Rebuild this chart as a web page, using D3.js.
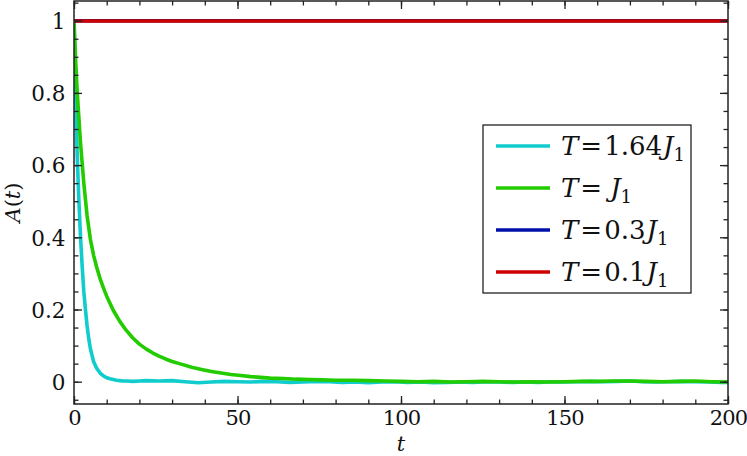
<!DOCTYPE html>
<html>
<head>
<meta charset="utf-8">
<script src="https://cdn.jsdelivr.net/npm/d3@7/dist/d3.min.js"></script>
<style>
  body { margin: 0; background: #fff; }
  svg { display: block; }
  .ser { font-family: "DejaVu Serif", serif; }
</style>
</head>
<body>
<svg id="chart" width="747" height="456"></svg>
<script>
// ---- data ----
const tCyan = [0,0.5,1,1.5,2,2.5,3,3.5,4,4.5,5,6,7,8,9,10,11,12,13,14,15,16,18,20,
  22,26,30,34,38,42,46,50,54,58,62,66,70,74,78,82,86,90,94,98,102,106,110,114,118,122,
  126,130,134,138,142,146,150,154,158,162,166,170,174,178,182,186,190,194,198,200];
const aCyan = [1.0,0.80,0.62,0.50,0.40,0.32,0.25,0.20,0.155,0.12,0.092,0.055,0.036,0.024,0.016,0.011,0.008,0.006,0.004,0.003,0.002,0.002,0.001,0.002,
  0.003,0.002,0.003,0.000,-0.003,-0.001,0.001,0.000,-0.001,0.001,0.000,-0.002,-0.001,0.001,0.000,-0.002,-0.001,-0.003,-0.001,0.000,-0.002,-0.001,-0.003,-0.002,-0.001,-0.002,
  0.000,-0.001,-0.002,-0.001,-0.002,0.000,-0.001,0.000,0.001,0.000,0.001,0.002,0.000,-0.001,0.000,0.001,0.000,-0.001,-0.002,-0.002];

const tGreen = [0,0.5,1,1.5,2,3,4,5,6,7,8,9,10,12,14,16,18,20,22,24,26,28,30,33,36,39,42,45,48,51,54,57,60,
  64,68,72,76,80,85,90,95,100,105,110,115,120,125,130,135,140,145,150,155,160,165,170,175,180,185,190,195,200];
const aGreen = [1.0,0.89,0.80,0.73,0.66,0.55,0.46,0.395,0.35,0.315,0.285,0.26,0.237,0.198,0.167,0.142,0.121,0.104,0.091,0.080,0.071,0.063,0.056,0.048,0.040,0.034,0.028,0.024,0.020,0.017,0.014,0.012,0.010,
  0.009,0.007,0.006,0.005,0.004,0.004,0.003,0.002,0.001,0.000,0.001,-0.001,0.000,0.001,0.000,-0.001,0.000,-0.001,0.000,0.001,0.001,0.002,0.002,0.001,0.000,0.001,0.002,0.000,-0.001];

const tBlue = [0,50,100,150,200];
const aBlue = [1,1,1,1,1];
const tRed = [0,50,100,150,200];
const aRed = [0.999,0.999,0.999,0.999,0.999];

const seriesNames = ["1.64", "", "0.3", "0.1"];
const seriesColors = ["#11cccc", "#22cc00", "#0010aa", "#cc0000"];

const xTicks = [0, 50, 100, 150, 200];
const yTicks = [0, 0.2, 0.4, 0.6, 0.8, 1];
const yTickLabels = ["0", "0.2", "0.4", "0.6", "0.8", "1"];

// ---- layout ----
const L = 74, R = 728, T = 1, B = 404;
const svg = d3.select("#chart");
const x = d3.scaleLinear().domain([0, 200]).range([L, R]);
const y = d3.scaleLinear().domain([0, 1]).range([381.7, 20.7]);

svg.append("defs").append("clipPath").attr("id", "clip")
  .append("rect").attr("x", L).attr("y", T).attr("width", R - L).attr("height", B - T);

const series = [
  { t: tCyan, a: aCyan },
  { t: tGreen, a: aGreen },
  { t: tBlue, a: aBlue },
  { t: tRed, a: aRed }
];
const line = d3.line().x(d => x(d[0])).y(d => y(d[1]));
const g = svg.append("g").attr("clip-path", "url(#clip)");
series.forEach((s, i) => {
  g.append("path")
    .datum(s.t.map((tv, k) => [tv, s.a[k]]))
    .attr("d", line)
    .attr("fill", "none")
    .attr("stroke", seriesColors[i])
    .attr("stroke-width", 3.6)
    .attr("stroke-linejoin", "round");
});

// ---- axes (inward ticks on all sides) ----
const xMinor = d3.range(0, 201, 10);
const yMinor = d3.range(-0.05, 1.051, 0.05).map(v => +v.toFixed(2));
function styleAxis(sel) {
  sel.attr("font-family", null).attr("class", "ser");
  sel.select(".domain").remove();
  sel.selectAll(".tick line").attr("stroke", "#222").attr("stroke-width", 1.3);
}
// bottom
svg.append("g").attr("transform", `translate(0,${B})`)
  .call(d3.axisBottom(x).tickValues(xMinor).tickSize(-4.5).tickFormat("")).call(styleAxis);
svg.append("g").attr("transform", `translate(0,${B})`)
  .call(d3.axisBottom(x).tickValues(xTicks).tickSize(-8).tickFormat(d3.format("d")))
  .call(styleAxis)
  .call(s => s.selectAll("text").attr("class", "ser").attr("font-size", 21).attr("y", 21).attr("dy", 0)
    .attr("letter-spacing", -0.8).attr("fill", "#111"));
// top
svg.append("g").attr("transform", `translate(0,${T})`)
  .call(d3.axisTop(x).tickValues(xMinor).tickSize(-4.5).tickFormat("")).call(styleAxis);
svg.append("g").attr("transform", `translate(0,${T})`)
  .call(d3.axisTop(x).tickValues(xTicks).tickSize(-8).tickFormat("")).call(styleAxis);
// left
svg.append("g").attr("transform", `translate(${L},0)`)
  .call(d3.axisLeft(y).tickValues(yMinor).tickSize(-4.5).tickFormat("")).call(styleAxis);
svg.append("g").attr("transform", `translate(${L},0)`)
  .call(d3.axisLeft(y).tickValues(yTicks).tickSize(-8).tickFormat((d, i) => yTickLabels[i]))
  .call(styleAxis)
  .call(s => s.selectAll("text").attr("class", "ser").attr("font-size", 21.5).attr("x", -8.5).attr("dy", "0.36em")
    .attr("fill", "#111"));
// right
svg.append("g").attr("transform", `translate(${R},0)`)
  .call(d3.axisRight(y).tickValues(yMinor).tickSize(-4.5).tickFormat("")).call(styleAxis);
svg.append("g").attr("transform", `translate(${R},0)`)
  .call(d3.axisRight(y).tickValues(yTicks).tickSize(-8).tickFormat("")).call(styleAxis);

// frame
svg.append("rect").attr("x", L).attr("y", T).attr("width", R - L).attr("height", B - T)
  .attr("fill", "none").attr("stroke", "#222").attr("stroke-width", 1.5);

// axis labels
svg.append("text").attr("class", "ser").attr("x", (L + R) / 2).attr("y", 451).attr("text-anchor", "middle")
  .attr("fill", "#111").attr("font-size", 21).attr("font-style", "italic").text("t");
const yl = svg.append("text").attr("class", "ser").attr("transform", `translate(20,${(T + B) / 2}) rotate(-90)`)
  .attr("fill", "#111").attr("text-anchor", "middle").attr("font-size", 21);
yl.append("tspan").attr("font-style", "italic").text("A");
yl.append("tspan").text("(");
yl.append("tspan").attr("font-style", "italic").text("t");
yl.append("tspan").text(")");

// legend
const lg = svg.append("g").attr("class", "ser");
lg.append("rect").attr("x", 483).attr("y", 125).attr("width", 208).attr("height", 168)
  .attr("fill", "#fff").attr("stroke", "#222").attr("stroke-width", 1.3);
seriesNames.forEach((name, i) => {
  const yy = 146 + i * 42;
  lg.append("line").attr("x1", 496).attr("x2", 550).attr("y1", yy).attr("y2", yy)
    .attr("stroke", seriesColors[i]).attr("stroke-width", 3.6);
  const tx = lg.append("text").attr("class", "ser").attr("x", 561).attr("y", yy + 9).attr("font-size", 26)
    .attr("fill", "#111");
  tx.append("tspan").attr("font-style", "italic").text("T");
  tx.append("tspan").attr("dx", 2).text("=");
  if (name) tx.append("tspan").attr("dx", 2).text(name);
  tx.append("tspan").attr("font-style", "italic").attr("dx", name ? 1 : 8).text("J");
  tx.append("tspan").attr("font-size", 18).attr("dy", 6).text("1");
});
</script>
</body>
</html>
